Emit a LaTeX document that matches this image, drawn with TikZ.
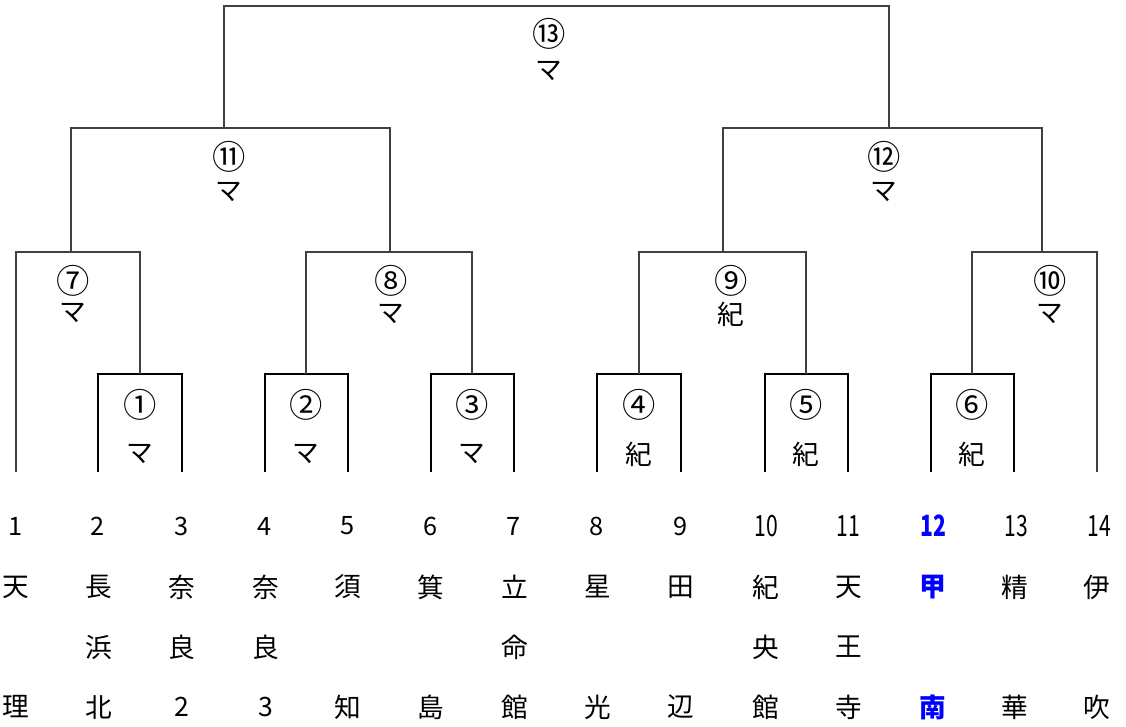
\documentclass[tikz,border=0pt]{standalone}
\usepackage{fontspec}
\setmainfont{Noto Sans CJK JP}
\begin{document}
\begin{tikzpicture}[x=0.75pt,y=-0.75pt,
  thin line/.style={draw=black!75,line width=0.8pt},
  box line/.style={draw=black,line width=1.3pt},
  circ/.style={font=\fontsize{25}{28}\selectfont,inner sep=0pt},
  lbl/.style={font=\fontsize{20}{22}\selectfont,inner sep=0pt},
  num/.style={font=\fontsize{19}{20}\selectfont,inner sep=0pt},
  wnum/.style={font=\fontsize{22}{24}\selectfont,inner sep=0pt},
  team/.style={font=\fontsize{20}{22}\selectfont,inner sep=0pt},
  hl/.style={text=blue,font=\fontsize{22}{24}\selectfont\bfseries}]
\useasboundingbox[fill=white] (0,0) rectangle (1126,726);
% bottom coordinates of teams
\foreach \i/\x in {1/16,2/98,3/182,4/265,5/348,6/431,7/514,8/597,9/681,10/765,11/848,12/931,13/1014,14/1097}{
  \coordinate (b\i) at (\x,472);
}
% round 1 boxes
\draw[box line] (b2) |- (140,374) coordinate (m1) -| (b3);
\draw[box line] (b4) |- (306,374) coordinate (m2) -| (b5);
\draw[box line] (b6) |- (472,374) coordinate (m3) -| (b7);
\draw[box line] (b8) |- (639,374) coordinate (m4) -| (b9);
\draw[box line] (b10) |- (806,374) coordinate (m5) -| (b11);
\draw[box line] (b12) |- (972,374) coordinate (m6) -| (b13);
% round 2
\draw[thin line] (b1) |- (71,252) coordinate (m7) -| (m1);
\draw[thin line] (m2) |- (390,252) coordinate (m8) -| (m3);
\draw[thin line] (m4) |- (723,252) coordinate (m9) -| (m5);
\draw[thin line] (m6) |- (1042,252) coordinate (m10) -| (b14);
% round 3
\draw[thin line] (m7) |- (224,128) coordinate (m11) -| (m8);
\draw[thin line] (m9) |- (889,128) coordinate (m12) -| (m10);
% final
\draw[thin line] (m11) |- (556,6) coordinate (m13) -| (m12);
% match labels
\node[circ] (c13) at (549,34) {⑬}; \node[lbl] (r13) at (549,71) {マ};
\node[circ] (c11) at (229,157) {⑪}; \node[lbl] (r11) at (229,192) {マ};
\node[circ] (c12) at (884,157) {⑫}; \node[lbl] (r12) at (884,192) {マ};
\node[circ] (c7) at (73,281) {⑦}; \node[lbl] (r7) at (73,313) {マ};
\node[circ] (c8) at (391,281) {⑧}; \node[lbl] (r8) at (391,314) {マ};
\node[circ] (c9) at (731,281) {⑨}; \node[lbl] (r9) at (731,314) {紀};
\node[circ] (c10) at (1050,281) {⑩}; \node[lbl] (r10) at (1050,314) {マ};
\node[circ] (c1) at (140,405) {①}; \node[lbl] (r1) at (140,454) {マ};
\node[circ] (c2) at (306,405) {②}; \node[lbl] (r2) at (306,454) {マ};
\node[circ] (c3) at (472,405) {③}; \node[lbl] (r3) at (472,454) {マ};
\node[circ] (c4) at (639,405) {④}; \node[lbl] (r4) at (639,454) {紀};
\node[circ] (c5) at (806,405) {⑤}; \node[lbl] (r5) at (806,454) {紀};
\node[circ] (c6) at (972,405) {⑥}; \node[lbl] (r6) at (972,454) {紀};
% seeds numbers
\foreach \i/\x in {1/16,2/98,3/182,4/265,5/348,6/431,7/514,8/597,9/681}{
  \node[num] (n\i) at (\x,526) {\i};
}
\node[wnum] (n10) at (766,526) {\scalebox{0.72}[1]{10}};
\node[wnum] (n11) at (848,526) {\scalebox{0.72}[1]{11}};
\node[wnum,hl] (n12) at (933,526) {\scalebox{0.72}[1]{12}};
\node[wnum] (n13) at (1016,526) {\scalebox{0.72}[1]{13}};
\node[wnum] (n14) at (1099,526) {\scalebox{0.72}[1]{14}};
% team names
\foreach \i/\x/\a/\b/\c in {1/16/天//理,2/99/長/浜/北,3/182/奈/良/2,4/266/奈/良/3,5/348/須//知,6/431/箕//島,7/515/立/命/館,8/598/星//光,9/681/田//辺,10/766/紀/央/館,11/849/天/王/寺,13/1015/精//華,14/1097/伊//吹}{
  \node[team] (ta\i) at (\x,587) {\a};
  \node[team] (tb\i) at (\x,647) {\b};
  \node[team] (tc\i) at (\x,707) {\c};
}
\node[team,hl,font=\fontsize{20}{22}\selectfont\bfseries] (ta12) at (933,587) {甲};
\node[team,hl,font=\fontsize{20}{22}\selectfont\bfseries] (tc12) at (933,707) {南};
\end{tikzpicture}
\end{document}
